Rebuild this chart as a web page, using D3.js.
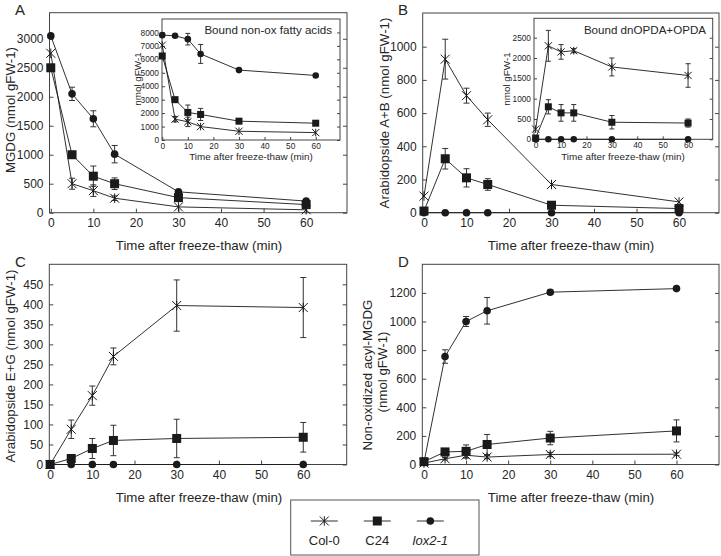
<!DOCTYPE html>
<html><head><meta charset="utf-8">
<script src="https://cdnjs.cloudflare.com/ajax/libs/d3/7.8.5/d3.min.js"></script>
<style>body{margin:0;background:#fff} svg{display:block;font-family:"Liberation Sans",Arial,Helvetica,sans-serif}</style>
</head><body><svg id="c" width="721" height="556"></svg>
<script>
// ---------- DATA ----------
const times = [0, 5, 10, 15, 30, 60];
const seriesNames = ["Col-0", "C24", "lox2-1"];
const xTicks = [0, 10, 20, 30, 40, 50, 60];

// Panel A: MGDG
const mgdgCol0 = [2750, 500, 380, 250, 100, 50];
const mgdgCol0Err = [0, 95, 100, 40, 0, 0];
const mgdgC24 = [2500, 1000, 630, 500, 260, 140];
const mgdgC24Err = [0, 0, 175, 100, 0, 0];
const mgdgLox = [3050, 2050, 1620, 1010, 360, 200];
const mgdgLoxErr = [0, 115, 138, 150, 0, 0];
const mgdgYTicks = [0, 500, 1000, 1500, 2000, 2500, 3000];

// Inset A: Bound non-ox fatty acids
const nonoxCol0 = [7050, 1550, 1350, 1000, 650, 550];
const nonoxCol0Err = [0, 200, 350, 0, 0, 0];
const nonoxC24 = [6250, 3000, 2050, 1900, 1400, 1250];
const nonoxC24Err = [0, 0, 550, 450, 0, 0];
const nonoxLox = [7800, 7750, 7500, 6400, 5200, 4800];
const nonoxLoxErr = [0, 0, 430, 700, 0, 0];
const nonoxYTicks = [0, 1000, 2000, 3000, 4000, 5000, 6000, 7000, 8000];

// Panel B: Arabidopside A+B
const abCol0 = [100, 925, 705, 560, 170, 65];
const abCol0Err = [0, 120, 45, 40, 0, 0];
const abC24 = [10, 325, 210, 170, 45, 25];
const abC24Err = [0, 62, 55, 35, 0, 0];
const abLox = [0, 0, 0, 0, 0, 0];
const abLoxErr = [0, 0, 0, 0, 0, 0];
const abYTicks = [0, 200, 400, 600, 800, 1000];

// Inset B: Bound dnOPDA+OPDA
const opdaCol0 = [250, 2300, 2150, 2180, 1780, 1570];
const opdaCol0Err = [0, 380, 180, 50, 220, 290];
const opdaC24 = [30, 800, 650, 650, 420, 400];
const opdaC24Err = [0, 175, 205, 205, 165, 100];
const opdaLox = [0, 0, 0, 0, 0, 0];
const opdaLoxErr = [0, 0, 0, 0, 0, 0];
const opdaYTicks = [0, 500, 1000, 1500, 2000, 2500];

// Panel C: Arabidopside E+G
const egCol0 = [0, 88, 172, 270, 397, 392];
const egCol0Err = [0, 23, 24, 21, 64, 75];
const egC24 = [0, 15, 40, 60, 65, 68];
const egC24Err = [0, 6, 25, 38, 48, 37];
const egLox = [0, 0, 0, 0, 0, 0];
const egLoxErr = [0, 0, 0, 0, 0, 0];
const egYTicks = [0, 50, 100, 150, 200, 250, 300, 350, 400, 450];

// Panel D: Non-oxidized acyl-MGDG
const acylCol0 = [10, 40, 65, 52, 70, 72];
const acylCol0Err = [0, 8, 20, 12, 15, 10];
const acylC24 = [20, 88, 92, 140, 185, 235];
const acylC24Err = [0, 15, 45, 70, 47, 77];
const acylLox = [15, 755, 1000, 1075, 1205, 1230];
const acylLoxErr = [0, 47, 35, 93, 15, 8];
const acylYTicks = [0, 200, 400, 600, 800, 1000, 1200];

// ---------- DRAWING ----------
const svg = d3.select("#c");
const INK = "#1a1a1a";
const TXT = "#262626";

function drawMarker(g, type, cx, cy, sz) {
  if (type === 0) {
    const s = sz.ast;
    g.append("path").attr("d", `M${-s},${-s}L${s},${s}M${-s},${s}L${s},${-s}M0,${-s*1.05}L0,${s*1.05}`)
      .attr("transform", `translate(${cx},${cy})`)
      .attr("stroke", INK).attr("stroke-width", 1).attr("fill", "none");
  } else if (type === 1) {
    g.append("rect").attr("x", cx - sz.sq / 2).attr("y", cy - sz.sq / 2).attr("width", sz.sq).attr("height", sz.sq).attr("fill", INK);
  } else {
    g.append("circle").attr("cx", cx).attr("cy", cy).attr("r", sz.r).attr("fill", INK);
  }
}

function panel(o) {
  const g = svg.append("g");
  const x = d3.scaleLinear().domain(o.xd).range([o.x0, o.x1]);
  const y = d3.scaleLinear().domain(o.yd).range([o.y1, o.y0]);
  g.append("rect").attr("x", o.x0).attr("y", o.y0).attr("width", o.x1 - o.x0).attr("height", o.y1 - o.y0)
    .attr("fill", "#fff").attr("stroke", "#444").attr("stroke-width", 1);

  const ax = g.append("g").attr("transform", `translate(${o.x0},0)`)
    .call(d3.axisLeft(y).tickValues(o.yt).tickSizeInner(-o.tk).tickSizeOuter(0).tickPadding(o.pad).tickFormat(d3.format("d")));
  const axr = g.append("g").attr("transform", `translate(${o.x1},0)`)
    .call(d3.axisRight(y).tickValues(o.yt).tickSizeInner(-o.tk).tickSizeOuter(0).tickFormat(""));
  const axb = g.append("g").attr("transform", `translate(0,${o.y1})`)
    .call(d3.axisBottom(x).tickValues(xTicks).tickSizeInner(-o.tk).tickSizeOuter(0).tickPadding(o.pad).tickFormat(d3.format("d")));
  [ax, axr, axb].forEach(a => {
    a.select(".domain").remove();
    a.selectAll("line").attr("stroke", "#444");
    a.selectAll("text").attr("fill", TXT).style("font-size", o.fs + "px");
    a.attr("font-family", null);
  });

  const sz = o.sz;
  const line = d3.line().x((d, i) => x(times[i])).y(d => y(d));
  o.series.forEach(s => {
    g.append("path").datum(s.v).attr("d", line).attr("fill", "none").attr("stroke", INK).attr("stroke-width", 0.9);
  });
  o.series.forEach(s => {
    s.v.forEach((v, i) => {
      const e = s.e[i];
      if (e > 0) {
        const cx = x(times[i]);
        g.append("line").attr("x1", cx).attr("x2", cx).attr("y1", y(v - e)).attr("y2", y(v + e)).attr("stroke", "#333").attr("stroke-width", 1);
        [v - e, v + e].forEach(w => g.append("line").attr("x1", cx - sz.cap).attr("x2", cx + sz.cap).attr("y1", y(w)).attr("y2", y(w)).attr("stroke", "#333").attr("stroke-width", 1));
      }
    });
  });
  o.series.forEach(s => {
    s.v.forEach((v, i) => drawMarker(g, s.type, x(times[i]), y(v), sz));
  });
  return g;
}

const mainSz = { ast: 4.5, sq: 9, r: 3.8, cap: 3 };
const insetSz = { ast: 3.6, sq: 7, r: 3.3, cap: 2.5 };

function mkSeries(a, ae, b, be, c, ce) {
  return [{ type: 0, v: a, e: ae }, { type: 1, v: b, e: be }, { type: 2, v: c, e: ce }];
}

// Panel A
panel({ x0: 49.5, x1: 347, y0: 12.7, y1: 212.7, xd: [-0.3, 69.6], yd: [0, 3450], yt: mgdgYTicks, tk: 4, pad: 6, fs: 12, sz: mainSz,
  series: mkSeries(mgdgCol0, mgdgCol0Err, mgdgC24, mgdgC24Err, mgdgLox, mgdgLoxErr) });
// Inset A
panel({ x0: 162, x1: 340, y0: 19, y1: 140, xd: [-0.1, 69.5], yd: [0, 9000], yt: nonoxYTicks, tk: 3, pad: 3, fs: 8.3, sz: insetSz,
  series: mkSeries(nonoxCol0, nonoxCol0Err, nonoxC24, nonoxC24Err, nonoxLox, nonoxLoxErr) });
// Panel B
panel({ x0: 422.7, x1: 719, y0: 13, y1: 212.7, xd: [-0.3, 69.4], yd: [0, 1203], yt: abYTicks, tk: 4, pad: 6, fs: 12, sz: mainSz,
  series: mkSeries(abCol0, abCol0Err, abC24, abC24Err, abLox, abLoxErr) });
// Inset B
panel({ x0: 534, x1: 712.7, y0: 18.3, y1: 139.3, xd: [-0.65, 69.7], yd: [0, 2977], yt: opdaYTicks, tk: 3, pad: 3, fs: 8.3, sz: insetSz,
  series: mkSeries(opdaCol0, opdaCol0Err, opdaC24, opdaC24Err, opdaLox, opdaLoxErr) });
// Panel C
panel({ x0: 49.3, x1: 346.7, y0: 264.3, y1: 464.5, xd: [-0.2, 70.3], yd: [0, 500], yt: egYTicks, tk: 4, pad: 6, fs: 12, sz: mainSz,
  series: mkSeries(egCol0, egCol0Err, egC24, egC24Err, egLox, egLoxErr) });
// Panel D
panel({ x0: 422.3, x1: 719, y0: 264.3, y1: 464.5, xd: [-0.4, 70.1], yd: [0, 1400], yt: acylYTicks, tk: 4, pad: 6, fs: 12, sz: mainSz,
  series: mkSeries(acylCol0, acylCol0Err, acylC24, acylC24Err, acylLox, acylLoxErr) });

// ---------- TEXT ----------
function txt(x, y, s, size, opts = {}) {
  const t = svg.append("text").attr("x", x).attr("y", y).text(s).attr("fill", TXT)
    .style("font-size", size + "px").attr("text-anchor", opts.anchor || "middle");
  if (opts.rot) t.attr("transform", `rotate(-90,${x},${y})`);
  if (opts.italic) t.style("font-style", "italic");
  return t;
}
// panel letters
txt(15, 14.5, "A", 15, { anchor: "start" });
txt(398, 15, "B", 15, { anchor: "start" });
txt(15, 267, "C", 15, { anchor: "start" });
txt(398, 267, "D", 15, { anchor: "start" });
// x-axis titles
const xTitle = "Time after freeze-thaw (min)";
txt(199, 250, xTitle, 13.3);
txt(571, 250, xTitle, 13.3);
txt(199, 502, xTitle, 13.3);
txt(571, 502, xTitle, 13.3);
// y-axis titles
txt(15, 110, "MGDG (nmol gFW-1)", 13.3, { rot: true });
txt(389, 113, "Arabidopside A+B (nmol gFW-1)", 13.3, { rot: true });
txt(15, 366, "Arabidopside E+G (nmol gFW-1)", 13.3, { rot: true });
txt(372, 375, "Non-oxidized acyl-MGDG", 13.3, { rot: true });
txt(387, 372, "(nmol gFW-1)", 13.3, { rot: true });
// inset titles
txt(332, 34, "Bound non-ox fatty acids", 11.6, { anchor: "end" });
txt(706, 34, "Bound dnOPDA+OPDA", 11.6, { anchor: "end" });
txt(251, 159.5, xTitle, 9.9);
txt(623, 159.5, xTitle, 9.9);
txt(141, 79, "nmol gFW-1", 9.9, { rot: true });
txt(510, 79, "nmol gFW-1", 9.9, { rot: true });

// ---------- LEGEND ----------
const lg = svg.append("g");
lg.append("rect").attr("x", 290.7).attr("y", 500).attr("width", 188.3).attr("height", 55).attr("fill", "#fff").attr("stroke", "#555");
const legX = d3.scalePoint().domain(seriesNames).range([324.3, 430.3]);
seriesNames.forEach((n, k) => {
  const cx = legX(n);
  lg.append("line").attr("x1", cx - 13.5).attr("x2", cx + 13.5).attr("y1", 521).attr("y2", 521).attr("stroke", INK).attr("stroke-width", 0.9);
  drawMarker(lg, k, cx, 521, mainSz);
  const t = lg.append("text").attr("x", cx).attr("y", 544.5).attr("text-anchor", "middle").attr("fill", TXT).style("font-size", "13px").text(n);
  if (k === 2) t.style("font-style", "italic");
});
</script></body></html>
